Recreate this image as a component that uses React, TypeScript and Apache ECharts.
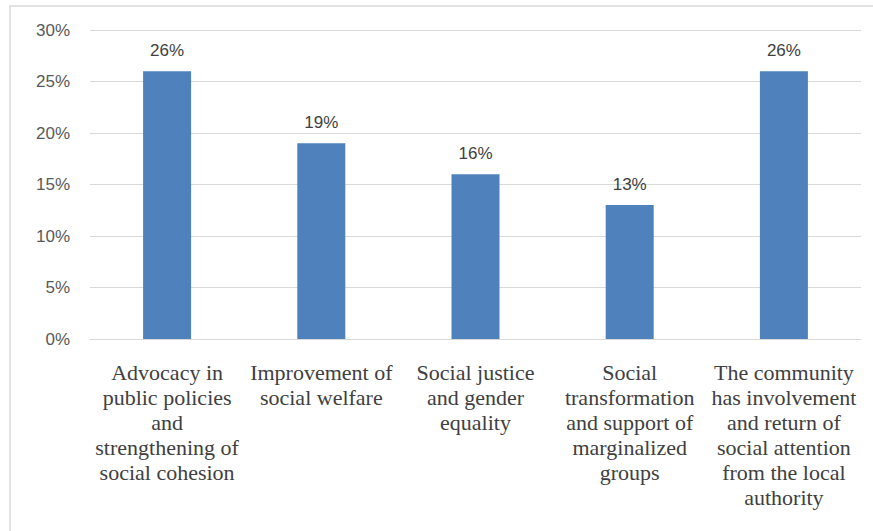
import React, { useEffect, useRef } from "react";
import * as echarts from "echarts";

const categories = [
  "Advocacy in\npublic policies\nand\nstrengthening of\nsocial cohesion",
  "Improvement of\nsocial welfare",
  "Social justice\nand gender\nequality",
  "Social\ntransformation\nand support of\nmarginalized\ngroups",
  "The community\nhas involvement\nand return of\nsocial attention\nfrom the local\nauthority",
];
const values = [26, 19, 16, 13, 26];
const yTicks = [0, 5, 10, 15, 20, 25, 30];

export default function App() {
  const ref = useRef<HTMLDivElement>(null);
  useEffect(() => {
    if (!ref.current) return;
    const chart = echarts.init(ref.current, undefined, { renderer: "svg" });
    chart.setOption({
      animation: false,
      backgroundColor: "#ffffff",
      graphic: [
        {
          type: "rect",
          shape: { x: 10, y: 6, width: 880, height: 560 },
          style: { fill: "none", stroke: "#d9d9d9", lineWidth: 1.5 },
          silent: true,
          z: 0,
        },
      ],
      grid: { left: 90, right: 12, top: 30, bottom: 192, containLabel: false },
      xAxis: {
        type: "category",
        data: categories,
        axisLine: { show: true, lineStyle: { color: "#d9d9d9", width: 1 } },
        axisTick: { show: false },
        axisLabel: {
          interval: 0,
          margin: 21,
          fontFamily: "'Liberation Serif', 'DejaVu Serif', serif",
          fontSize: 22,
          lineHeight: 25,
          color: "#404040",
          align: "center",
        },
      },
      yAxis: {
        type: "value",
        min: yTicks[0],
        max: yTicks[yTicks.length - 1],
        interval: 5,
        axisLine: { show: false },
        axisTick: { show: false },
        splitLine: { lineStyle: { color: "#d9d9d9", width: 1 } },
        axisLabel: {
          formatter: (v: number) => `${v}%`,
          margin: 20,
          fontFamily: "'Liberation Sans', Arial, sans-serif",
          fontSize: 17,
          color: "#595959",
        },
      },
      series: [
        {
          type: "bar",
          data: values,
          barWidth: 48,
          itemStyle: { color: "#4F81BD" },
          label: {
            show: true,
            position: "top",
            distance: 12,
            formatter: (p: any) => `${p.value}%`,
            fontFamily: "'Liberation Sans', Arial, sans-serif",
            fontSize: 17,
            color: "#404040",
          },
        },
      ],
    });
    return () => chart.dispose();
  }, []);
  return (
    <div
      ref={ref}
      style={{ position: "absolute", left: 0, top: 0, width: 873, height: 531 }}
    />
  );
}
